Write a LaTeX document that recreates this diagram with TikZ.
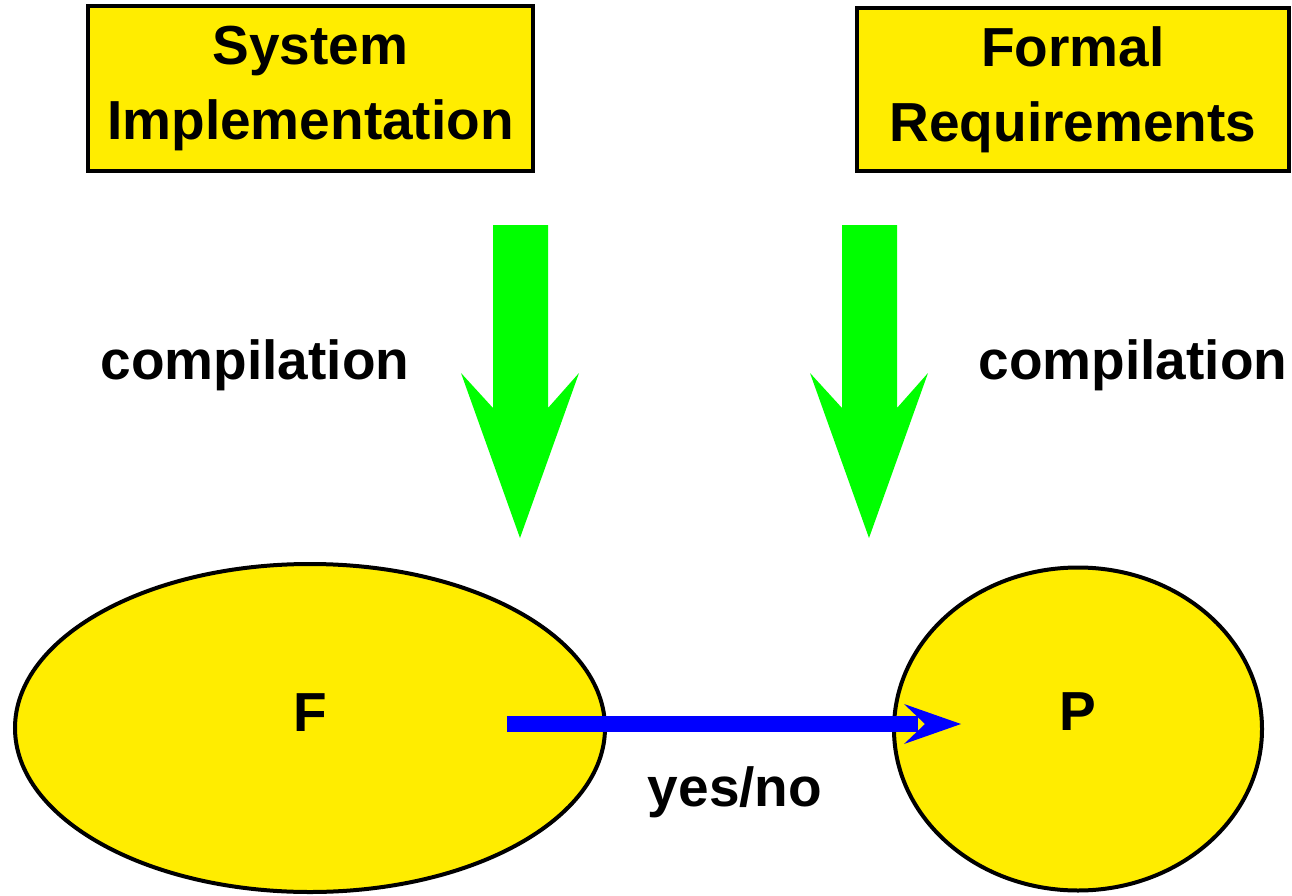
\documentclass[tikz,border=0pt]{standalone}
\usepackage{fontspec}
\setmainfont{Liberation Sans}
\usetikzlibrary{shapes.geometric}
\definecolor{boxyellow}{HTML}{FFED00}
\definecolor{arrgreen}{HTML}{00FF00}
\definecolor{arrblue}{HTML}{0000FF}
\tikzset{
  lbl/.style={font=\fontsize{55}{75}\selectfont\bfseries, inner sep=0pt},
  ybox/.style={draw=black, line width=3.5pt, fill=boxyellow, align=center, inner sep=0pt,
    font=\fontsize{55}{75}\selectfont\bfseries},
  yell/.style={ellipse, draw=black, line width=4pt, fill=boxyellow, inner sep=0pt},
  greenarrow/.style={fill=arrgreen, draw=none},
}
\begin{document}
\begin{tikzpicture}[x=1pt,y=-1pt]
\useasboundingbox (0,0) rectangle (1292,896);
% boxes
\node[ybox, minimum width=445pt, minimum height=165pt] (sys) at (310.5,88.5) {System\\Implementation};
\node[ybox, minimum width=432pt, minimum height=163pt] (req) at (1073,89.5) {Formal\\Requirements};
% green arrows
\path[greenarrow] (493,225) -- (548,225) -- (548,408) -- (579,373) -- (520,538) -- (461,373) -- (493,408) -- cycle;
\path[greenarrow] (842,225) -- (897,225) -- (897,408) -- (928,373) -- (869,538) -- (810,373) -- (842,408) -- cycle;
% labels
\node[lbl] (c1) at (255,365) {compilation};
\node[lbl] (c2) at (1133,365) {compilation};
% ellipses
\node[yell, minimum width=590pt, minimum height=328pt] (F) at (310,728) {};
\node[yell, minimum width=368pt, minimum height=323pt] (P) at (1078,729) {};
\node[lbl] (Ft) at (310,713) {F};
\node[lbl] (Pt) at (1078,712) {P};
% blue arrow
\coordinate (a0) at (507,724);
\coordinate (a1) at (918,724);
\coordinate (tip) at (961,724);
\draw[arrblue, line width=16pt] (a0) -- (a1);
\path[fill=arrblue] (904,704) -- (tip) -- (904,744) -- (925,724) -- cycle;
\node[lbl] (yn) at (735,792) {yes/no};
\end{tikzpicture}
\end{document}
